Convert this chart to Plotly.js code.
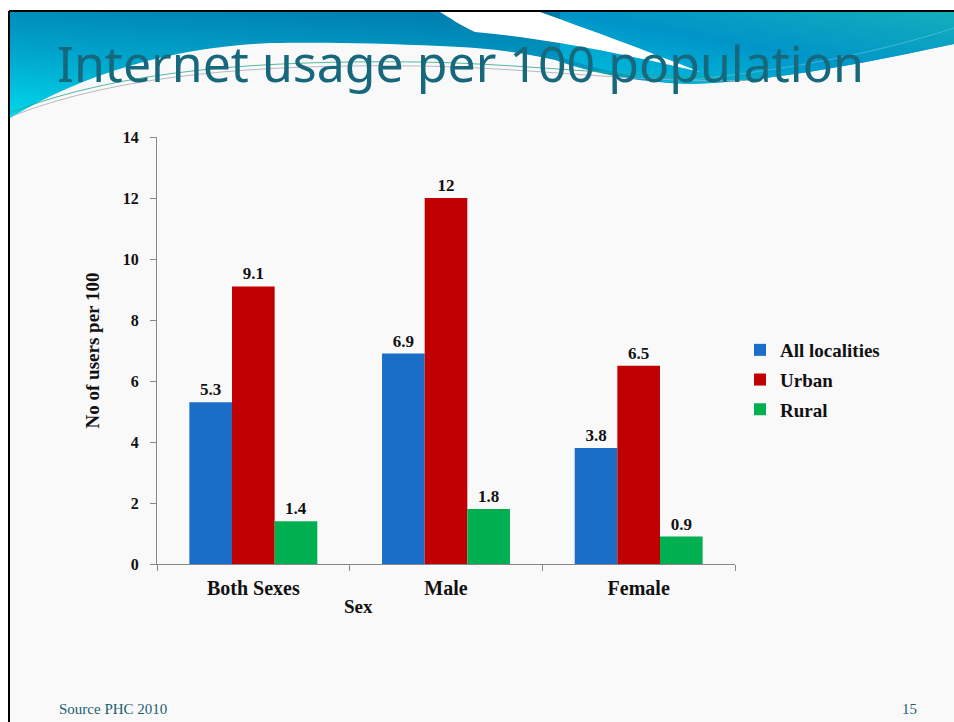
<!DOCTYPE html>
<html>
<head>
<meta charset="utf-8">
<script src="https://cdn.plot.ly/plotly-3.0.1.min.js"></script>
<style>
  html, body { margin: 0; padding: 0; background: #ffffff; }
  #wrap { position: relative; width: 954px; height: 722px; overflow: hidden; }
  #bg { position: absolute; left: 0; top: 0; }
  #chart { position: absolute; left: 0; top: 0; width: 954px; height: 722px; }
</style>
</head>
<body>
<div id="wrap">
<svg id="bg" width="954" height="722" xmlns="http://www.w3.org/2000/svg">
  <defs>
    <linearGradient id="gL" x1="0" y1="1" x2="0.6" y2="0">
      <stop offset="0" stop-color="#00d8ec"/>
      <stop offset="0.45" stop-color="#00a6cc"/>
      <stop offset="1" stop-color="#0078ab"/>
    </linearGradient>
    <linearGradient id="gR" x1="0" y1="1" x2="1" y2="0">
      <stop offset="0" stop-color="#00c8e4"/>
      <stop offset="0.5" stop-color="#0098cc"/>
      <stop offset="1" stop-color="#18b8c0"/>
    </linearGradient>
  </defs>
  <rect x="0" y="0" width="954" height="722" fill="#ffffff"/>
  <rect x="10" y="12" width="944" height="710" fill="#f9f9f9"/>
  <path d="M10,12 L954,12 L954,44 C870,62 770,82 690,84 C630,82 590,72 555,60 C520,52 490,48 440,46 C380,43 320,42 270,43 C180,47 90,70 10,118 Z" fill="url(#gL)"/>
  <path d="M560,12 L954,12 L954,44 C870,62 770,82 690,84 C650,82 600,70 560,57 Z" fill="url(#gR)" opacity="0.85"/>
  <path d="M440,12 L540,12 C590,30 645,50 700,72 C640,58 560,40 475,32 C460,25 450,18 440,12 Z" fill="#ffffff"/>
  <path d="M12,112 C120,70 260,60 420,62 C540,64 640,80 760,76" fill="none" stroke="#2aa888" stroke-width="1" opacity="0.8"/>
  <path d="M12,116 C120,74 260,64 420,66 C540,68 640,84 760,80" fill="none" stroke="#a8a8b8" stroke-width="1" opacity="0.8"/>
  <path d="M690,80 C800,68 880,52 954,28" fill="none" stroke="#5cc0d8" stroke-width="1" opacity="0.7"/>
  <line x1="9" y1="11" x2="954" y2="11" stroke="#000" stroke-width="2"/>
  <line x1="9" y1="11" x2="9" y2="722" stroke="#000" stroke-width="2"/>
</svg>
<div id="chart"></div>
</div>
<script>
const categories = ["Both Sexes", "Male", "Female"];
const seriesNames = ["All localities", "Urban", "Rural"];
const allLocalities = [5.3, 6.9, 3.8];
const urban = [9.1, 12, 6.5];
const rural = [1.4, 1.8, 0.9];
const valueLabels = [["5.3", "6.9", "3.8"], ["9.1", "12", "6.5"], ["1.4", "1.8", "0.9"]];
const yTicks = [0, 2, 4, 6, 8, 10, 12, 14];

const colors = ["#1a6ec8", "#c00000", "#00b050"];
const serif = "Liberation Serif, Times New Roman, serif";
const seriesData = [allLocalities, urban, rural];

const PL = 157, PR = 735, PT = 137, PB = 564;
const px = (x) => (x - PL) / (PR - PL);
const py = (y) => (PB - y) / (PB - PT);

const traces = seriesData.map((vals, i) => ({
  type: "bar",
  name: seriesNames[i],
  legendgroup: "g" + i,
  x: categories,
  y: vals,
  text: valueLabels[i],
  textposition: "outside",
  cliponaxis: false,
  textfont: { family: serif, size: 17, color: "#111111", weight: "bold" },
  marker: { color: colors[i], line: { width: 0 } },
  hoverinfo: "x+y+name"
}));

const layout = {
  width: 954,
  height: 722,
  paper_bgcolor: "rgba(0,0,0,0)",
  plot_bgcolor: "rgba(0,0,0,0)",
  margin: { l: PL, r: 954 - PR, t: PT, b: 722 - PB },
  barmode: "group",
  bargap: 0.336,
  bargroupgap: 0,
  showlegend: true,
  title: {
    text: "Internet usage per 100 population",
    font: { family: "Noto Sans, Open Sans, sans-serif", size: 50, color: "#17687c" },
    xref: "container", yref: "container",
    x: 57 / 954, xanchor: "left",
    y: 1 - 64 / 722, yanchor: "middle"
  },
  legend: {
    x: 740 / 954, xref: "container", xanchor: "left",
    y: 1 - 331 / 722, yref: "container", yanchor: "top",
    font: { family: serif, size: 19, color: "#111111", weight: "bold" },
    itemwidth: 30,
    traceorder: "grouped",
    tracegroupgap: 2,
    bgcolor: "rgba(0,0,0,0)"
  },
  xaxis: {
    type: "category",
    tickson: "boundaries",
    ticks: "outside",
    ticklen: 6,
    tickcolor: "#888888",
    ticklabelstandoff: 6,
    showline: true,
    linecolor: "#888888",
    linewidth: 1,
    showgrid: false,
    zeroline: false,
    tickfont: { family: serif, size: 20, color: "#111111", weight: "bold" }
  },
  yaxis: {
    range: [0, 14],
    tickvals: yTicks,
    ticktext: yTicks.map(String),
    ticks: "outside",
    ticklen: 6,
    tickcolor: "#888888",
    ticklabelstandoff: 8,
    showline: true,
    linecolor: "#888888",
    linewidth: 1,
    showgrid: false,
    zeroline: false,
    tickfont: { family: serif, size: 16, color: "#111111", weight: "bold" },
    title: {
      text: "No of users per 100",
      font: { family: serif, size: 19, color: "#111111", weight: "bold" },
      standoff: 18
    }
  },
  annotations: [
    { text: "Sex", xref: "paper", yref: "paper", x: px(358), y: py(606),
      xanchor: "center", yanchor: "middle", showarrow: false,
      font: { family: serif, size: 19, color: "#111111", weight: "bold" } },
    { text: "Source PHC 2010", xref: "paper", yref: "paper", x: px(57), y: py(709),
      xanchor: "left", yanchor: "middle", showarrow: false,
      font: { family: serif, size: 15, color: "#1a5f70" } },
    { text: "15", xref: "paper", yref: "paper", x: px(919), y: py(709),
      xanchor: "right", yanchor: "middle", showarrow: false,
      font: { family: serif, size: 15, color: "#1a5f70" } }
  ]
};

Plotly.newPlot("chart", traces, layout, { displayModeBar: false, staticPlot: true });
</script>
</body>
</html>
